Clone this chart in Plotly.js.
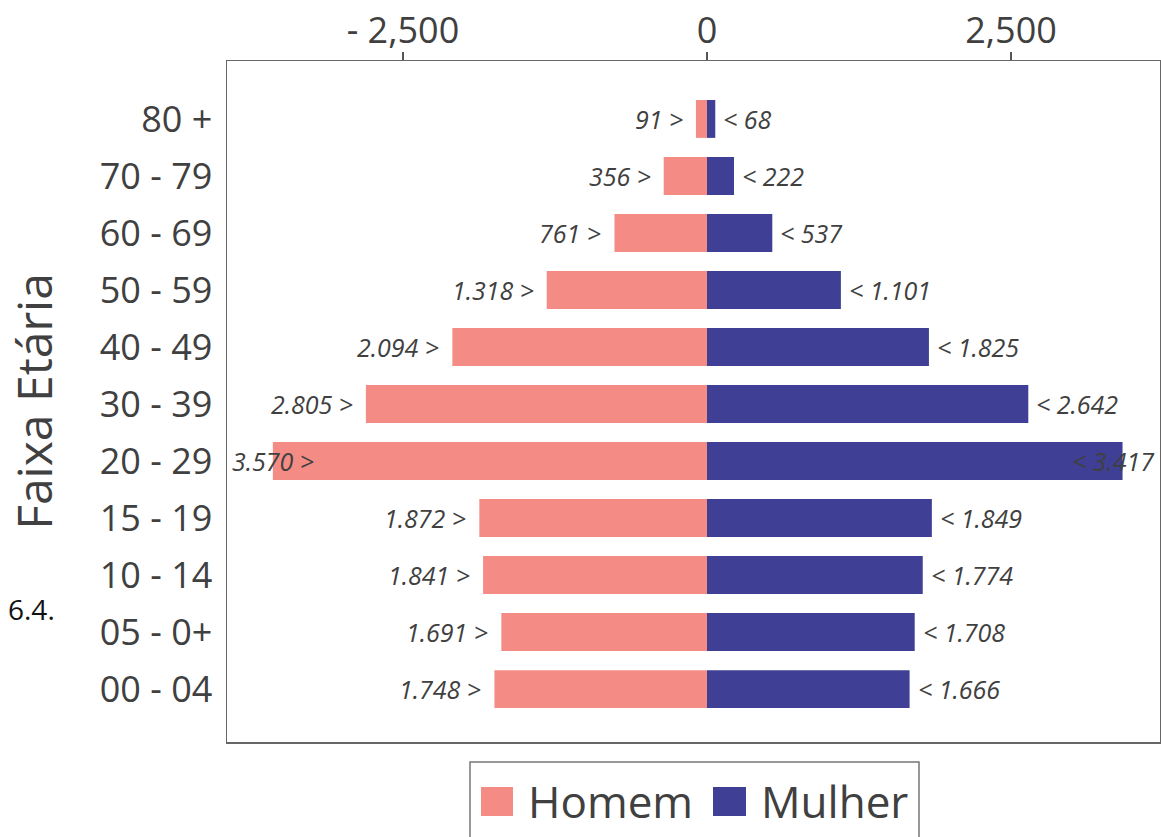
<!DOCTYPE html>
<html>
<head>
<meta charset="utf-8">
<script src="https://cdn.plot.ly/plotly-3.0.1.min.js"></script>
<style>html,body{margin:0;padding:0;background:#fff;}#chart{width:1161px;height:837px;}</style>
</head>
<body>
<div id="chart"></div>
<script>
// ---- data ----
var ageGroups = ["00 - 04", "05 - 0+", "10 - 14", "15 - 19", "20 - 29", "30 - 39", "40 - 49", "50 - 59", "60 - 69", "70 - 79", "80 +"];
var homem  = [1748, 1691, 1841, 1872, 3570, 2805, 2094, 1318, 761, 356, 91];
var mulher = [1666, 1708, 1774, 1849, 3417, 2642, 1825, 1101, 537, 222, 68];
var xTickVals = [-2500, 0, 2500];
var xTickText = ["- 2,500", "0", "2,500"];
var seriesNames = ["Homem", "Mulher"];

// ---- styling ----
var cHomem = "#F48C85";
var cMulher = "#3E3F95";
var txt = "#404040";
var W = 1161, H = 837;
var M = {l: 227, r: 1, t: 61, b: 95};
var plotW = W - M.l - M.r, plotH = H - M.t - M.b;
var xRange = [-3947, 3725];
var yRange = [-0.928, 11.016];
var pxPerUnit = plotW / (xRange[1] - xRange[0]);

function px2x(px) { return (px - M.l) / plotW; }
function py2y(py) { return (H - M.b - py) / plotH; }
function fmt(v) {
  var s = String(v);
  return s.length > 3 ? s.slice(0, s.length - 3) + "." + s.slice(s.length - 3) : s;
}

var traces = [
  {type: "bar", orientation: "h", name: seriesNames[0], y: ageGroups,
   x: homem.map(function (v) { return -v; }), marker: {color: cHomem},
   showlegend: false, hoverinfo: "skip"},
  {type: "bar", orientation: "h", name: seriesNames[1], y: ageGroups,
   x: mulher, marker: {color: cMulher}, showlegend: false, hoverinfo: "skip"}
];

var labelFont = {family: "Open Sans", size: 25, color: txt, style: "italic"};
var annotations = [];
var charW = 13.5;
ageGroups.forEach(function (g, i) {
  var tH = fmt(homem[i]) + " >";
  var wH = tH.length * charW + 14;
  if (homem[i] * pxPerUnit + wH > (0 - xRange[0]) * pxPerUnit) {
    annotations.push({x: xRange[0], y: g, xref: "x", yref: "y", text: tH, showarrow: false,
      xanchor: "left", xshift: 3, font: labelFont});
  } else {
    annotations.push({x: -homem[i], y: g, xref: "x", yref: "y", text: tH, showarrow: false,
      xanchor: "right", xshift: -11, font: labelFont});
  }
  var tM = "< " + fmt(mulher[i]);
  var wM = tM.length * charW + 10;
  if (mulher[i] * pxPerUnit + wM > xRange[1] * pxPerUnit) {
    annotations.push({x: xRange[1], y: g, xref: "x", yref: "y", text: tM, showarrow: false,
      xanchor: "right", xshift: -3, font: labelFont});
  } else {
    annotations.push({x: mulher[i], y: g, xref: "x", yref: "y", text: tM, showarrow: false,
      xanchor: "left", xshift: 6, font: labelFont});
  }
});

// legend (drawn manually for large swatches)
var legFont = {family: "Open Sans", size: 44, color: txt};
annotations.push({xref: "paper", yref: "paper", x: px2x(526), y: py2y(801), xanchor: "left", yanchor: "middle",
  text: seriesNames[0], showarrow: false, font: legFont});
annotations.push({xref: "paper", yref: "paper", x: px2x(759), y: py2y(801), xanchor: "left", yanchor: "middle",
  text: seriesNames[1], showarrow: false, font: legFont});
annotations.push({xref: "paper", yref: "paper", x: px2x(6), y: py2y(609), xanchor: "left", yanchor: "middle",
  text: "6.4.", showarrow: false, font: {family: "Open Sans", size: 28, color: "#111"}});

var shapes = [
  {type: "rect", xref: "paper", yref: "paper", x0: px2x(470), x1: px2x(919), y0: py2y(762), y1: py2y(850),
   line: {color: "#777", width: 1.5}, fillcolor: "rgba(0,0,0,0)"},
  {type: "rect", xref: "paper", yref: "paper", x0: px2x(481), x1: px2x(513), y0: py2y(787), y1: py2y(816),
   line: {width: 0}, fillcolor: cHomem},
  {type: "rect", xref: "paper", yref: "paper", x0: px2x(713), x1: px2x(746), y0: py2y(787), y1: py2y(816),
   line: {width: 0}, fillcolor: cMulher}
];

var layout = {
  width: W, height: H,
  margin: M,
  paper_bgcolor: "#fff", plot_bgcolor: "#fff",
  barmode: "relative", bargap: 0.335,
  showlegend: false,
  font: {family: "Open Sans", color: txt},
  xaxis: {
    side: "top", range: xRange, tickvals: xTickVals, ticktext: xTickText,
    ticks: "outside", ticklen: 8, tickwidth: 1.5, tickcolor: "#555",
    ticklabelstandoff: -6,
    tickfont: {family: "Open Sans", size: 36, color: txt},
    showgrid: false, zeroline: false,
    showline: true, mirror: true, linecolor: "#666", linewidth: 1.5
  },
  yaxis: {
    type: "category", categoryorder: "array", categoryarray: ageGroups, range: yRange,
    ticks: "", ticklabelstandoff: 6,
    tickfont: {family: "Open Sans", size: 36, color: txt},
    showgrid: false, zeroline: false,
    showline: true, mirror: true, linecolor: "#666", linewidth: 1.5,
    title: {text: "Faixa Etária", font: {family: "Open Sans", size: 48, color: txt}, standoff: 32}
  },
  annotations: annotations,
  shapes: shapes
};

Plotly.newPlot("chart", traces, layout, {staticPlot: true});
</script>
</body>
</html>
